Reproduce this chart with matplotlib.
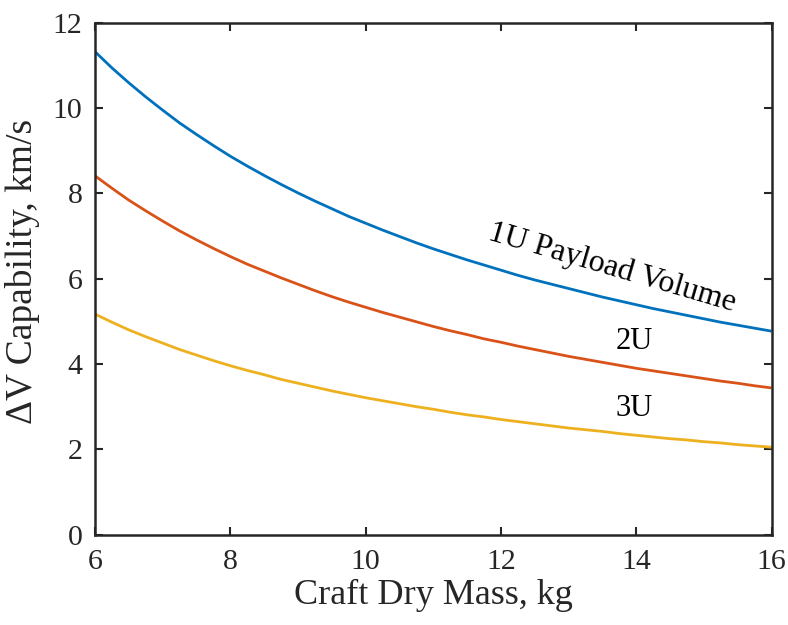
import matplotlib
matplotlib.use("Agg")
import matplotlib.pyplot as plt

# Data
mass = [6.0, 6.25, 6.5, 6.75, 7.0, 7.25, 7.5, 7.75, 8.0, 8.25, 8.5, 8.75,
        9.0, 9.25, 9.5, 9.75, 10.0, 10.25, 10.5, 10.75, 11.0, 11.25, 11.5,
        11.75, 12.0, 12.25, 12.5, 12.75, 13.0, 13.25, 13.5, 13.75, 14.0,
        14.25, 14.5, 14.75, 15.0, 15.25, 15.5, 15.75, 16.0]
dv_1u = [11.32, 10.94, 10.59, 10.26, 9.95, 9.65, 9.38, 9.12, 8.87, 8.64,
         8.42, 8.21, 8.01, 7.82, 7.64, 7.46, 7.30, 7.14, 6.99, 6.84, 6.70,
         6.57, 6.44, 6.32, 6.20, 6.08, 5.97, 5.87, 5.77, 5.67, 5.57, 5.48,
         5.39, 5.30, 5.22, 5.14, 5.06, 4.98, 4.91, 4.84, 4.77]
dv_2u = [8.41, 8.12, 7.84, 7.59, 7.35, 7.12, 6.91, 6.71, 6.52, 6.34, 6.18,
         6.02, 5.87, 5.72, 5.58, 5.45, 5.33, 5.21, 5.10, 4.99, 4.88, 4.78,
         4.69, 4.59, 4.51, 4.42, 4.34, 4.26, 4.18, 4.11, 4.04, 3.97, 3.90,
         3.84, 3.78, 3.72, 3.66, 3.60, 3.55, 3.49, 3.44]
dv_3u = [5.17, 4.98, 4.80, 4.64, 4.49, 4.34, 4.21, 4.08, 3.96, 3.85, 3.75,
         3.64, 3.55, 3.46, 3.37, 3.29, 3.21, 3.14, 3.07, 3.00, 2.94, 2.87,
         2.81, 2.76, 2.70, 2.65, 2.60, 2.55, 2.50, 2.46, 2.42, 2.37, 2.33,
         2.29, 2.25, 2.22, 2.18, 2.15, 2.11, 2.08, 2.05]
series_colors = ["#0072BD", "#D95319", "#EDB120"]
labels = ["1U Payload Volume", "2U", "3U"]
xticks = [6, 8, 10, 12, 14, 16]
yticks = [0, 2, 4, 6, 8, 10, 12]

plt.rcParams['font.family'] = ['Liberation Serif', 'DejaVu Serif']

fig = plt.figure(figsize=(7.88, 6.25), dpi=100)
ax = fig.add_axes([0.1206, 0.1445, 0.8585, 0.8192])

for ys, c in zip([dv_1u, dv_2u, dv_3u], series_colors):
    ax.plot(mass, ys, color=c, lw=2.0, solid_capstyle='butt')

ax.set_xlim(6, 16)
ax.set_ylim(0, 12)
ax.set_xticks(xticks)
ax.set_yticks(yticks)

axc = "#262626"
for s in ax.spines.values():
    s.set_linewidth(1.8)
    s.set_color(axc)
ax.tick_params(direction='in', length=6, width=1.5, colors=axc,
               top=True, right=True, labelsize=21.5)
ax.tick_params(axis='x', pad=10)
ax.tick_params(axis='y', pad=9)

ax.set_xlabel("Craft Dry Mass, kg", fontsize=26, color=axc, labelpad=3)
ax.set_ylabel("\u0394V Capability, km/s", fontsize=27, color=axc)
ax.yaxis.set_label_coords(-0.081, 0.515)

ax.text(13.65, 6.25, labels[0], fontsize=23, rotation=-16.3,
        rotation_mode='anchor', ha='center', va='center', color='black')
ax.text(13.97, 4.52, labels[1], fontsize=22, ha='center', va='center', color='black')
ax.text(13.97, 2.96, labels[2], fontsize=22, ha='center', va='center', color='black')

fig.savefig("out.png", dpi=100)
